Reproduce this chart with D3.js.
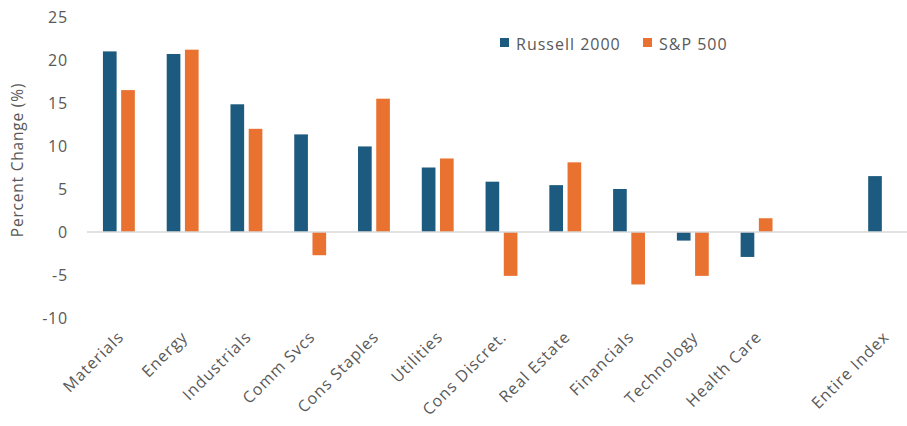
<!DOCTYPE html>
<html>
<head>
<meta charset="utf-8">
<script src="https://cdn.jsdelivr.net/npm/d3@7"></script>
<style>
  body { margin: 0; background: #fff; }
  svg text { font-family: "Open Sans", "Noto Sans", sans-serif; fill: #595959; }
</style>
</head>
<body>
<div id="vis"></div>
<script>
// sectors (one blank slot before the whole-index group)
const categories = ['Materials', 'Energy', 'Industrials', 'Comm Svcs', 'Cons Staples', 'Utilities',
    'Cons Discret.', 'Real Estate', 'Financials', 'Technology', 'Health Care', 'blank', 'Entire Index']
const seriesNames = ['Russell 2000', 'S&P 500']
const russell = [21.0, 20.7, 14.85, 11.35, 9.95, 7.5, 5.85, 5.45, 5.0, -1.0, -2.9, null, 6.5]
const sp500 = [16.5, 21.2, 12.0, -2.7, 15.5, 8.55, -5.1, 8.1, -6.1, -5.1, 1.6, null, null]
const yTicks = [25, 20, 15, 10, 5, 0, -5, -10]
const colors = ['#1c5b7f', '#ea7231']

const width = 907
const height = 426

const svg = d3.select('#vis')
    .append('svg')
    .attr('width', width)
    .attr('height', height)

let x0 = d3.scaleBand()
    .domain(categories)
    .range([87, 916])
    .paddingInner(0.5)
    .paddingOuter(0.25)

let x1 = d3.scaleBand()
    .domain(seriesNames)
    .range([0, x0.bandwidth()])
    .paddingInner(0.25)

let yScale = d3.scaleLinear()
    .domain([-10, 25])
    .range([318, 17])

// y tick labels
svg.selectAll('.ytick')
    .data(yTicks)
    .enter()
    .append('text')
    .attr('class', 'ytick')
    .attr('x', 68)
    .attr('y', d => yScale(d))
    .attr('dy', '0.35em')
    .attr('text-anchor', 'end')
    .style('font-size', '16px')
    .style('letter-spacing', '0.8px')
    .text(d => d)

let yAxisLabel = svg.append('text')
    .attr('transform', 'rotate(-90)')
    .attr('x', -160)
    .attr('y', 23)
    .attr('text-anchor', 'middle')
    .style('font-size', '15.5px')
    .style('letter-spacing', '0.8px')
    .text('Percent Change (%)')

// bars
const rows = categories.map((c, i) => ({cat: c, vals: [russell[i], sp500[i]]}))

const groups = svg.selectAll('.grp')
    .data(rows)
    .enter()
    .append('g')
    .attr('class', 'grp')
    .attr('transform', d => `translate(${x0(d.cat)},0)`)

groups.selectAll('rect')
    .data(d => d.vals.map((v, j) => ({name: seriesNames[j], v: v, j: j})).filter(e => e.v !== null))
    .enter()
    .append('rect')
    .attr('x', d => x1(d.name))
    .attr('y', d => yScale(Math.max(0, d.v)))
    .attr('width', x1.bandwidth())
    .attr('height', d => Math.abs(yScale(d.v) - yScale(0)))
    .attr('fill', d => colors[d.j])

// zero line
svg.append('line')
    .attr('x1', 87)
    .attr('x2', width)
    .attr('y1', yScale(0))
    .attr('y2', yScale(0))
    .attr('stroke', '#d9d9d9')
    .attr('stroke-width', 1.5)

// x labels, rotated
svg.selectAll('.xlab')
    .data(categories.filter(c => c !== 'blank'))
    .enter()
    .append('text')
    .attr('class', 'xlab')
    .attr('text-anchor', 'end')
    .attr('transform', d => `translate(${x0(d) + x0.bandwidth() / 2 + 6},${338}) rotate(-45)`)
    .style('font-size', '16px')
    .style('letter-spacing', '1px')
    .text(d => d)

// legend
const legend = svg.selectAll('.leg')
    .data(seriesNames)
    .enter()
    .append('g')
    .attr('class', 'leg')
    .attr('transform', (d, i) => `translate(${[500, 643][i]},38)`)

legend.append('rect')
    .attr('width', 9)
    .attr('height', 9)
    .attr('fill', (d, i) => colors[i])

legend.append('text')
    .attr('x', 16)
    .attr('y', 12)
    .style('font-size', '16px')
    .style('letter-spacing', '1px')
    .text(d => d)
</script>
</body>
</html>
